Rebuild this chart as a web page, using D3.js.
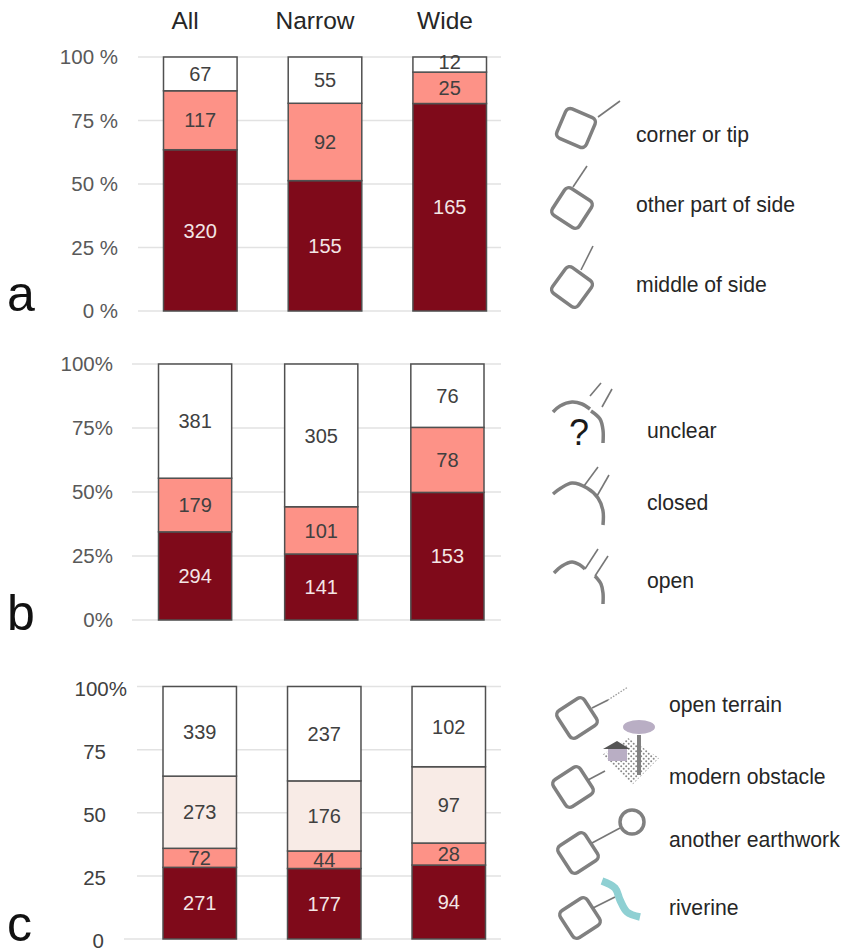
<!DOCTYPE html>
<html lang="en">
<head>
<meta charset="utf-8">
<title>Stacked bars a, b, c</title>
<script src="https://cdn.jsdelivr.net/npm/d3@7"></script>
<style>
  body { margin: 0; background: #fff; }
  svg { display: block; }
  text { font-family: "Liberation Sans", Arial, sans-serif; }
  .tick text { font-size: 20.5px; }
  .legend { fill: #262626; font-size: 21.2px; }
  .head { fill: #262626; font-size: 24.5px; text-anchor: middle; }
  .letter { fill: #111; font-size: 50px; }
  .icon { fill: none; stroke: #808080; stroke-width: 3.5; stroke-linejoin: round; }
  .thin { fill: none; stroke: #777; stroke-width: 1.6; }
</style>
</head>
<body>
<script>
var w = 841;
var h = 948;

var groups = ["All", "Narrow", "Wide"];

// counts, bottom segment first
var aKeys = ["middle of side", "other part of side", "corner or tip"];
var aMiddle = [320, 155, 165];
var aOther = [117, 92, 25];
var aCorner = [67, 55, 12];
var aTicks = ["0 %", "25 %", "50 %", "75 %", "100 %"];

var bKeys = ["open", "closed", "unclear"];
var bOpen = [294, 141, 153];
var bClosed = [179, 101, 78];
var bUnclear = [381, 305, 76];
var bTicks = ["0%", "25%", "50%", "75%", "100%"];

var cKeys = ["riverine", "another earthwork", "modern obstacle", "open terrain"];
var cRiverine = [271, 177, 94];
var cEarthwork = [72, 44, 28];
var cObstacle = [273, 176, 97];
var cTerrain = [339, 237, 102];
var cTicks = ["0", "25", "50", "75", "100%"];

var tickSteps = [0, 0.25, 0.5, 0.75, 1];

var svg = d3.select("body").append("svg")
  .attr("width", w)
  .attr("height", h);

var defs = svg.append("defs");
var dots = defs.append("pattern")
  .attr("id", "dots")
  .attr("width", 5).attr("height", 5)
  .attr("patternUnits", "userSpaceOnUse");
dots.append("circle").attr("cx", 1.2).attr("cy", 1.2).attr("r", 1).attr("fill", "#8a8a8a");
dots.append("circle").attr("cx", 3.7).attr("cy", 3.7).attr("r", 1).attr("fill", "#8a8a8a");

function drawPanel(p) {
  var rows = groups.map(function(g, i) {
    var row = { group: g };
    p.keys.forEach(function(k, j) { row[k] = p.series[j][i]; });
    return row;
  });

  var stacked = d3.stack().keys(p.keys).offset(d3.stackOffsetExpand)(rows);

  var x = d3.scaleBand()
    .domain(groups)
    .range([p.x0, p.x1])
    .paddingInner(p.pad)
    .paddingOuter(0);
  var y = d3.scaleLinear().domain([0, 1]).range([p.bottom, p.top]);

  var yAxis = d3.axisLeft(y)
    .tickValues(tickSteps)
    .tickFormat(function(d, i) { return p.ticks[i]; })
    .tickSize(0)
    .tickPadding(p.tickRight);

  var g = svg.append("g");

  var axis = g.append("g")
    .attr("transform", "translate(" + p.axisX + ",0)")
    .call(yAxis);
  axis.select(".domain").remove();
  axis.selectAll(".tick text")
    .attr("text-anchor", "end")
    .attr("fill", p.tickColor)
    .attr("dx", function(d, i) { return p.tickNudge ? p.tickNudge[i] : 0; })
    .attr("dy", p.tickDy);

  g.append("g").selectAll("line")
    .data(tickSteps)
    .enter()
    .append("line")
    .attr("x1", function(d, i) { return i === 0 ? p.baseX0 : p.gridX0; })
    .attr("x2", p.gridX1)
    .attr("y1", function(d) { return y(d); })
    .attr("y2", function(d) { return y(d); })
    .attr("stroke", "#e2e2e2")
    .attr("stroke-width", 1.5);

  function segments(s) {
    return s.map(function(d) {
      return { key: s.key, lo: d[0], hi: d[1], group: d.data.group, n: d.data[s.key] };
    });
  }

  var layer = g.selectAll(".layer")
    .data(stacked)
    .enter()
    .append("g")
    .attr("class", "layer");

  layer.selectAll("rect")
    .data(segments)
    .enter()
    .append("rect")
    .attr("x", function(d) { return x(d.group); })
    .attr("y", function(d) { return y(d.hi); })
    .attr("width", x.bandwidth())
    .attr("height", function(d) { return y(d.lo) - y(d.hi); })
    .attr("fill", function(d) { return p.colors[p.keys.indexOf(d.key)]; })
    .attr("stroke", "#505050")
    .attr("stroke-width", 1.5);

  layer.selectAll("text")
    .data(segments)
    .enter()
    .append("text")
    .attr("x", function(d) { return x(d.group) + x.bandwidth() / 2; })
    .attr("y", function(d) {
      var mid = y((d.lo + d.hi) / 2);
      // the thinnest top segment has its label pushed up over the edge
      return (y(d.lo) - y(d.hi) < 16 && d.hi === 1) ? mid - 3 : mid;
    })
    .attr("dy", "0.36em")
    .attr("text-anchor", "middle")
    .attr("font-size", 20)
    .attr("fill", function(d) { return p.keys.indexOf(d.key) === 0 ? "#f3e6e6" : "#404040"; })
    .text(function(d) { return d.n; });
}

drawPanel({
  keys: aKeys,
  series: [aMiddle, aOther, aCorner],
  colors: ["#7f0a1a", "#fd9287", "#ffffff"],
  ticks: aTicks,
  tickColor: "#595959", tickDy: "0.32em",
  top: 57, bottom: 311,
  x0: 163.5, x1: 486.5, pad: 0.41,
  axisX: 138, tickRight: 20,
  gridX0: 138, baseX0: 138, gridX1: 501
});

drawPanel({
  keys: bKeys,
  series: [bOpen, bClosed, bUnclear],
  colors: ["#7f0a1a", "#fd9287", "#ffffff"],
  ticks: bTicks,
  tickColor: "#595959", tickDy: "0.32em",
  top: 364, bottom: 620,
  x0: 158.5, x1: 484, pad: 0.42,
  axisX: 138, tickRight: 25,
  gridX0: 132, baseX0: 132, gridX1: 501
});

drawPanel({
  keys: cKeys,
  series: [cRiverine, cEarthwork, cObstacle, cTerrain],
  colors: ["#7f0a1a", "#fd9287", "#f8ebe6", "#ffffff"],
  ticks: cTicks,
  tickColor: "#404040", tickDy: "0.42em",
  tickNudge: [-2, 0, 0, 0, 21],
  top: 686.5, bottom: 939,
  x0: 163, x1: 485.5, pad: 0.41,
  axisX: 138, tickRight: 32,
  gridX0: 137, baseX0: 124, gridX1: 501
});

// column heads and panel letters
var headX = [185, 315, 445];
svg.selectAll(".head")
  .data(groups)
  .enter()
  .append("text")
  .attr("class", "head")
  .attr("x", function(d, i) { return headX[i]; })
  .attr("y", 29)
  .text(function(d) { return d; });

var letters = ["a", "b", "c"];
var letterY = [311, 630, 941];
svg.selectAll(".letter")
  .data(letters)
  .enter()
  .append("text")
  .attr("class", "letter")
  .attr("x", 7)
  .attr("y", function(d, i) { return letterY[i]; })
  .text(function(d) { return d; });

// legend labels
var legendText = ["corner or tip", "other part of side", "middle of side", "unclear", "closed", "open",
  "open terrain", "modern obstacle", "another earthwork", "riverine"];
var legendX = [636, 636, 636, 647, 647, 647, 669, 669, 669, 669];
var legendY = [142, 212, 292, 438, 510, 588, 712, 784, 847, 915];
svg.selectAll(".legend")
  .data(legendText)
  .enter()
  .append("text")
  .attr("class", "legend")
  .attr("x", function(d, i) { return legendX[i]; })
  .attr("y", function(d, i) { return legendY[i]; })
  .text(function(d) { return d; });

// legend icons
var line = d3.line().curve(d3.curveCatmullRom);

function square(cx, cy, angle) {
  svg.append("rect")
    .attr("class", "icon")
    .attr("x", -16).attr("y", -16)
    .attr("width", 32).attr("height", 32)
    .attr("rx", 5)
    .attr("transform", "translate(" + cx + "," + cy + ") rotate(" + angle + ")");
}
function thin(x1, y1, x2, y2) {
  svg.append("line").attr("class", "thin")
    .attr("x1", x1).attr("y1", y1).attr("x2", x2).attr("y2", y2);
}
function wall(pts) {
  svg.append("path").attr("class", "icon").attr("d", line(pts));
}

square(576, 128, 23); thin(598, 117, 620, 101);
square(572, 208, 33); thin(573, 187, 587, 166);
square(572, 287, 36); thin(581, 270, 593, 246);

wall([[553, 412], [560, 406], [572, 402], [582, 404], [590, 409]]);
wall([[591, 411], [600, 419], [603, 430], [603, 443]]);
thin(590, 396, 601, 383);
thin(602, 407, 612, 389);
svg.append("text").attr("x", 579).attr("y", 445).attr("text-anchor", "middle")
  .attr("font-size", 36).attr("fill", "#1a1a1a").text("?");

wall([[553, 494], [561, 488], [572, 483], [587, 488], [598, 498], [603, 511], [603, 525]]);
thin(584, 486, 598, 467);
thin(597, 496, 609, 475);

wall([[554, 573], [562, 566], [572, 562], [580, 565], [585, 569]]);
thin(585, 569, 598, 549);
thin(595, 576, 608, 556);
wall([[595, 576], [601, 584], [603, 593], [603, 604]]);

square(577, 718, -33);
thin(592, 708, 608, 700);
svg.append("line")
  .attr("x1", 608).attr("y1", 700).attr("x2", 628).attr("y2", 687)
  .attr("stroke", "#999").attr("stroke-width", 1.3).attr("stroke-dasharray", "1.5 1.5");

square(573, 787, -33);
thin(588, 780, 605, 771);
svg.append("path").attr("d", "M602 755L628 738L659 758L632 785Z").attr("fill", "url(#dots)");
svg.append("line").attr("x1", 639).attr("y1", 735).attr("x2", 639).attr("y2", 775)
  .attr("stroke", "#808080").attr("stroke-width", 4);
svg.append("ellipse").attr("cx", 639).attr("cy", 727).attr("rx", 16).attr("ry", 7).attr("fill", "#b9aec4");
svg.append("rect").attr("x", 608).attr("y", 749).attr("width", 19).attr("height", 12).attr("fill", "#b9aec4");
svg.append("path").attr("d", "M603 749L617 741L630 749Z").attr("fill", "#555");

square(578, 853, -33);
thin(592, 843, 620, 828);
svg.append("circle").attr("class", "icon").attr("cx", 632).attr("cy", 822).attr("r", 12);

square(580, 918, -33);
thin(593, 908, 615, 897);
svg.append("path")
  .attr("d", line([[602, 881], [615, 888], [620, 900], [627, 912], [640, 917]]))
  .attr("fill", "none").attr("stroke", "#8fd0d3").attr("stroke-width", 7.5);
</script>
</body>
</html>
